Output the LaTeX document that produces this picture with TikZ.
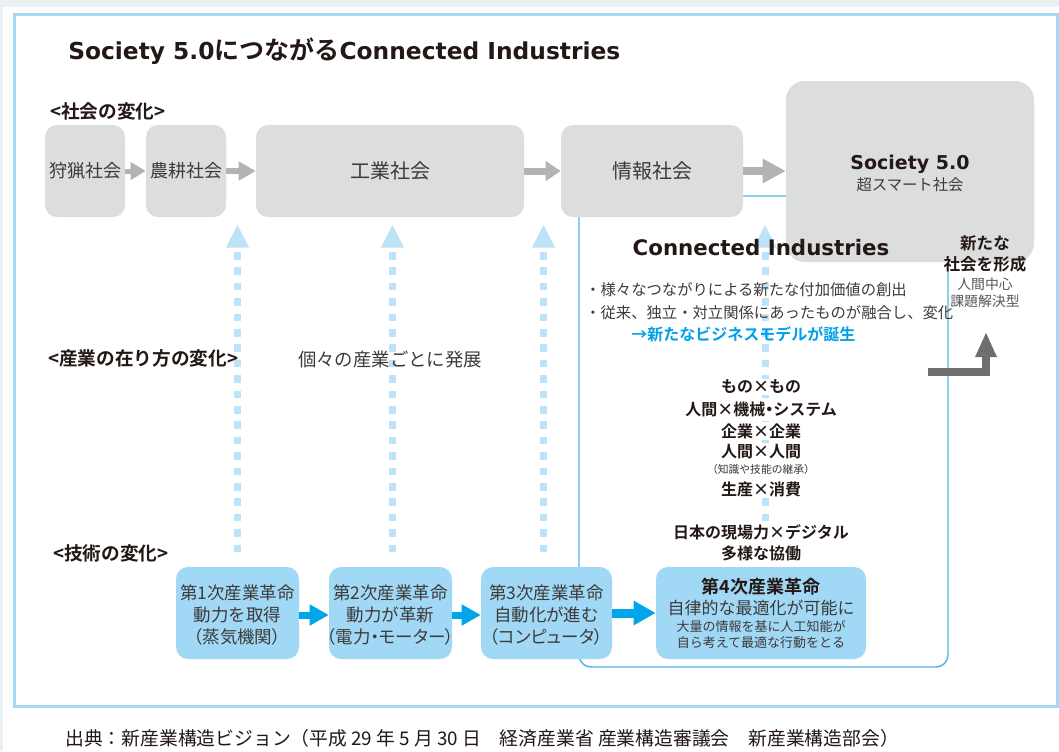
\documentclass[tikz,border=0pt]{standalone}
\usepackage{fontspec}
\setmainfont{Noto Sans CJK JP}[BoldFont={Noto Sans CJK JP Bold}]
\newfontfamily\pfont{Noto Sans CJK JP}[CharacterWidth=AlternateProportional]
\newfontfamily\latf{DejaVu Sans}
\usetikzlibrary{arrows.meta}
\definecolor{bgout}{HTML}{EBF0F3}
\definecolor{framec}{HTML}{A6D8F5}
\definecolor{grayfill}{HTML}{DCDDDD}
\definecolor{grayarr}{HTML}{B3B3B3}
\definecolor{darkarr}{HTML}{6E6E6E}
\definecolor{bluefill}{HTML}{A0D8F5}
\definecolor{bluearr}{HTML}{00A6E9}
\definecolor{dotc}{HTML}{BDE3F8}
\definecolor{ciline}{HTML}{4FB6EA}
\definecolor{txt}{HTML}{231815}
\definecolor{txtr}{HTML}{3E3A39}
\definecolor{txtg}{HTML}{595757}
\definecolor{bluetxt}{HTML}{00A0E9}
\newcommand\fsz[1]{\fontsize{#1pt}{#1pt}\selectfont}
\begin{document}
\begin{tikzpicture}[x=0.75pt,y=-0.75pt,
  graybox/.style={draw=none,fill=grayfill,rounded corners=9pt,inner sep=0pt,text=txtr},
  bluebox/.style={draw=none,fill=bluefill,rounded corners=9pt,inner sep=0pt},
  garrow/.style={draw=grayarr,line width=#1*0.75pt},
  barrow/.style={draw=bluearr,line width=#1*0.75pt},
  dotline/.style={draw=dotc,line width=5.25pt,dash pattern=on 5.7pt off 5.85pt},
  dothead/.style={fill=dotc,draw=none},
  lbl/.style={inner sep=0pt,text=txt},
  blk/.style={inner sep=1pt,fill=white,text=txt,font=\bfseries\fsz{12}},
  boxt/.style={inner sep=0pt,text=txtr,font=\fsz{13.1}}
]
\useasboundingbox (0,0) rectangle (1059,751);
\fill[bgout] (0,0) rectangle (1059,751);
\fill[white] (3,7) rectangle (1059,751);
\draw[framec,line width=2.25pt] (14.5,14.5) rectangle (1057,706.5);

% title
\node[lbl,anchor=base west] (title) at (68,59)
  {{\latf\bfseries\fsz{17.5}Society 5.0}{\bfseries\fsz{18.75}につながる}{\latf\bfseries\fsz{17.5}Connected Industries}};

% section labels
\node[lbl,anchor=west,font=\bfseries\fsz{14}] (lsoc) at (50,111) {<社会の変化>};
\node[lbl,anchor=west,font=\bfseries\fsz{14}] (lind) at (48,358) {<産業の在り方の変化>};
\node[lbl,anchor=west,font=\bfseries\fsz{14}] (ltec) at (53,553) {<技術の変化>};

% Connected Industries frame (behind)
\draw[ciline,line width=1.1pt,rounded corners=9pt] (579,196) rectangle (948,667);

% society boxes
\node[graybox,minimum width=80*0.75pt,minimum height=92*0.75pt,font=\fsz{13.5}] (hunt) at (85,171) {狩猟社会};
\node[graybox,minimum width=80*0.75pt,minimum height=92*0.75pt,font=\fsz{13.5}] (agri) at (186,171) {農耕社会};
\node[graybox,minimum width=268*0.75pt,minimum height=92*0.75pt,font=\fsz{15}] (ind) at (390,171) {工業社会};
\node[graybox,minimum width=182*0.75pt,minimum height=92*0.75pt,font=\fsz{15}] (info) at (652,171) {情報社会};
\node[graybox,rounded corners=14pt,minimum width=248*0.75pt,minimum height=181*0.75pt] (soc5) at (910,171.5) {};
\node[lbl,anchor=base] (soc5a) at (910,169) {\latf\bfseries\fsz{14.25}Society 5.0};
\node[lbl,text=txtr,font=\fsz{11.5}] (soc5b) at (910,185) {超スマート社会};

% gray arrows
\draw[garrow=5,-{Triangle[length=15*0.75pt,width=17*0.75pt]}] (hunt.east) -- (agri.west);
\draw[garrow=6,-{Triangle[length=17*0.75pt,width=18*0.75pt]}] (agri.east) -- (ind.west);
\draw[garrow=7,-{Triangle[length=15*0.75pt,width=19*0.75pt]}] (ind.east) -- (info.west);
\draw[garrow=8,-{Triangle[length=23*0.75pt,width=23*0.75pt]}] (info.east) -- (soc5.west |- info.east);

% dotted arrows
\foreach \n/\xx in {d1/237.5,d2/392.5,d3/543.5,d4/765}{
  \coordinate (\n top) at (\xx,252);
  \coordinate (\n bot) at (\xx,552.5);
  \draw[dotline] (\n top) -- (\n bot);
  \fill[dothead] (\xx-11.5,247.5) -- (\xx,225) -- (\xx+11.5,247.5) -- cycle;
}

% Connected Industries texts
\node[lbl,anchor=base] (cititle) at (761,255) {\latf\bfseries\fsz{16}Connected Industries};
\node[lbl,text=txtr,anchor=west,font=\fsz{11.5}] (b1) at (585,290) {・様々なつながりによる新たな付加価値の創出};
\node[lbl,text=txtr,anchor=west,font=\fsz{11.5}] (b2) at (585,313) {・従来、独立・対立関係にあったものが融合し、変化};
\node[lbl,text=bluetxt,anchor=west,font=\bfseries\fsz{12}] (b3) at (631,334) {→新たなビジネスモデルが誕生};

\node[lbl,font=\bfseries\fsz{12.4}] (nt1) at (985,243) {新たな};
\node[lbl,font=\bfseries\fsz{12.4}] (nt2) at (985,264) {社会を形成};
\node[lbl,text=txtg,font=\fsz{10.4}] (nt3) at (985,284) {人間中心};
\node[lbl,text=txtg,font=\fsz{10.4}] (nt4) at (985,301) {課題解決型};

% bent gray arrow
\coordinate (ba0) at (928,372);
\coordinate (ba1) at (986,372);
\coordinate (ba2) at (986,356);
\draw[darkarr,line width=6pt] (ba0) -- (ba1) -- (ba2);
\fill[darkarr] (975,357) -- (986,333) -- (997,357) -- cycle;

\node[lbl,text=txtr,font=\fsz{13.8}] (each) at (390,360) {個々の産業ごとに発展};

% center block
\node[blk] (m1) at (761,387) {もの×もの};
\node[blk] (m2) at (761,409) {人間×機械{\pfont ・}システム};
\node[blk] (m3) at (761,431) {企業×企業};
\node[blk] (m4) at (761,452) {人間×人間};
\node[blk,font=\fsz{8.1},text=txtr] (m5) at (761,469) {（知識や技能の継承）};
\node[blk] (m6) at (761,489) {生産×消費};
\node[blk] (m7) at (761,532) {日本の現場力×デジタル};
\node[blk] (m8) at (761,553) {多様な協働};

% tech boxes
\node[bluebox,minimum width=123*0.75pt,minimum height=92*0.75pt] (r1) at (237.5,613) {};
\node[bluebox,minimum width=123*0.75pt,minimum height=92*0.75pt] (r2) at (390.5,613) {};
\node[bluebox,minimum width=131*0.75pt,minimum height=92*0.75pt] (r3) at (546.5,613) {};
\node[bluebox,minimum width=210*0.75pt,minimum height=92*0.75pt] (r4) at (761,613) {};

\node[boxt] at (237.5,593) {第1次産業革命};
\node[boxt] at (237.5,615) {動力を取得};
\node[boxt] at (237.5,637) {\pfont（蒸気機関）};
\node[boxt] at (390.5,593) {第2次産業革命};
\node[boxt] at (390.5,615) {動力が革新};
\node[boxt] at (390.5,637) {\pfont（電力・モーター）};
\node[boxt] at (546.5,593) {第3次産業革命};
\node[boxt] at (546.5,615) {自動化が進む};
\node[boxt] at (546.5,637) {\pfont（コンピュータ）};
\node[boxt,text=txt,font=\bfseries\fsz{13.5}] at (761,587) {第4次産業革命};
\node[boxt,font=\fsz{12.75}] at (761,608) {自律的な最適化が可能に};
\node[boxt,font=\fsz{9.75}] at (761,627) {大量の情報を基に人工知能が};
\node[boxt,font=\fsz{9.75}] at (761,643) {自ら考えて最適な行動をとる};

\draw[barrow=7,-{Triangle[length=19*0.75pt,width=20*0.75pt]}] (r1.east |- 0,615) -- (r2.west |- 0,615);
\draw[barrow=7,-{Triangle[length=19*0.75pt,width=20*0.75pt]}] (r2.east |- 0,615) -- (r3.west |- 0,615);
\draw[barrow=9,-{Triangle[length=22*0.75pt,width=23*0.75pt]}] (r3.east |- 0,613) -- (r4.west |- 0,613);

% footer
\node[lbl,anchor=west,font=\fsz{14.1}] (src) at (65,738) {出典：新産業構造ビジョン（平成 29 年 5 月 30 日　経済産業省 産業構造審議会　新産業構造部会）};
\end{tikzpicture}
\end{document}
